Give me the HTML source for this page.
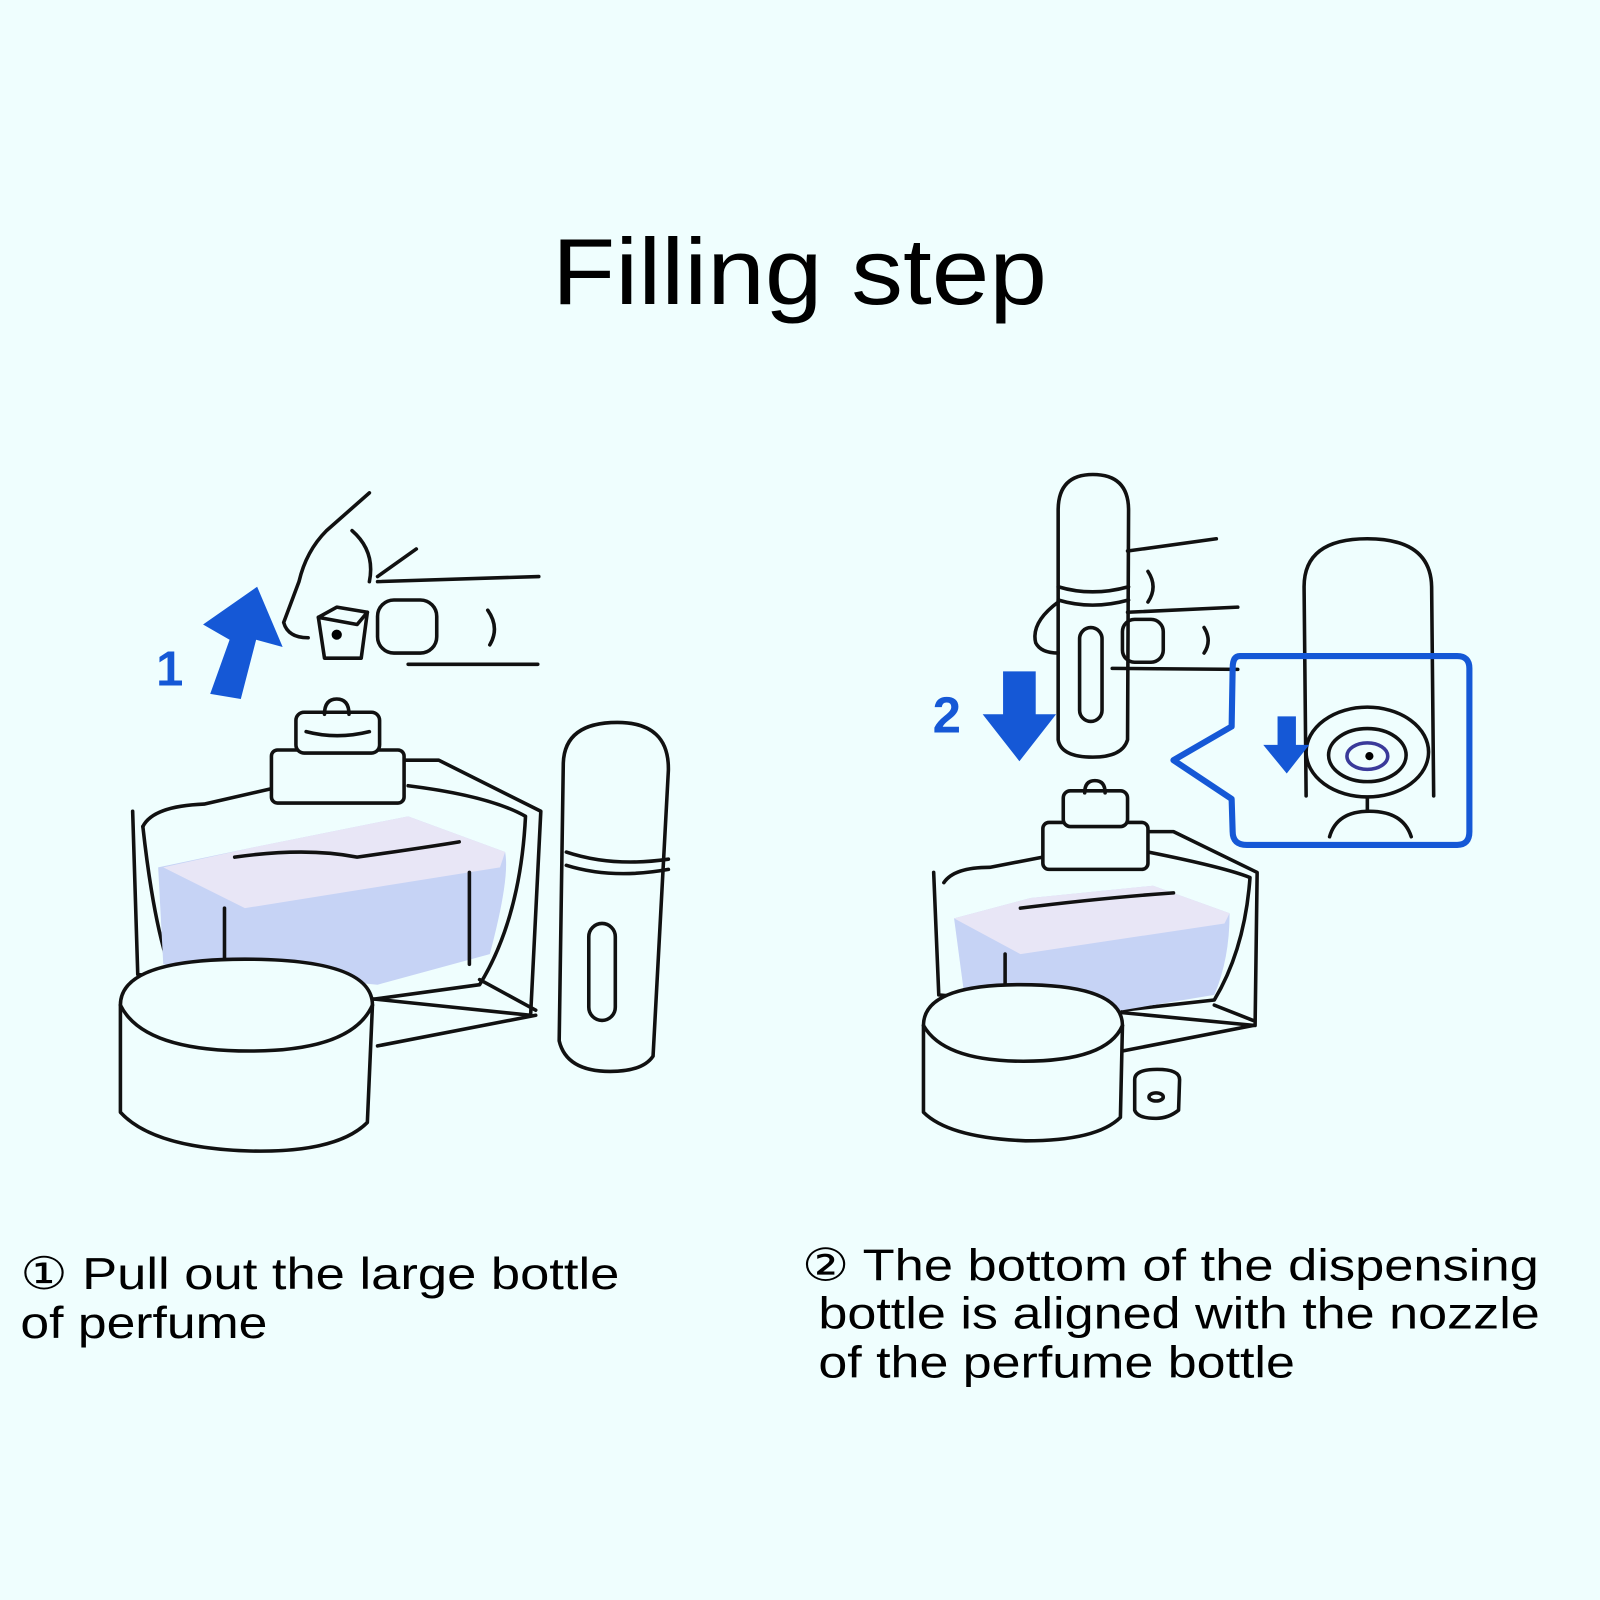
<!DOCTYPE html>
<html><head><meta charset="utf-8"><style>
html,body{margin:0;padding:0;background:#effefe;}
svg{display:block}
text{font-family:"Liberation Sans",sans-serif;fill:#000}
</style></head><body>
<svg width="1600" height="1600" viewBox="0 0 1568 1568" xmlns="http://www.w3.org/2000/svg">
<rect width="1568" height="1568" fill="#effefe"/>
<text x="541" y="298" font-size="92" textLength="485" lengthAdjust="spacingAndGlyphs">Filling step</text>

<g fill="none" stroke="#111" stroke-width="3.5" stroke-linejoin="round" stroke-linecap="round">
<path d="M130 795 L135 955 L520 995 L530 795 L430 745 L395 745"/>
<path d="M140 810 Q150 790 200 788 L270 772"/>
<path d="M400 770 Q480 780 515 800 Q510 900 470 965 L360 980"/>
<path d="M140 810 Q150 900 165 945"/>
<path d="M470 960 L525 990 M370 1025 L525 995"/>
<path d="M155 850 L250 830 L400 800 L495 835 Q500 860 480 935 L370 965 L160 945 Z" fill="#c6d3f5" stroke="none"/>
<path d="M160 850 L250 830 L400 800 L495 835 L490 850 L240 890 Z" fill="#e8e6f6" stroke="none"/>
<path d="M230 840 Q300 830 350 840 Q420 830 450 825"/>
<path d="M220 890 L220 940 M460 855 L460 945"/>
<rect x="266" y="735" width="130" height="52" rx="6" fill="#effefe"/>
<rect x="290" y="698" width="82" height="40" rx="8" fill="#effefe"/>
<path d="M318 700 Q318 685 330 685 Q342 685 342 700"/>
<path d="M300 717 Q330 725 362 717"/>
<path d="M118 985 Q118 940 240 940 Q365 940 365 985 L360 1100 Q330 1130 245 1128 Q150 1125 118 1090 Z" fill="#effefe"/>
<path d="M118 985 Q140 1030 245 1030 Q345 1030 365 985"/>
<path d="M552 750 Q552 708 605 708 Q656 708 655 755 L640 1035 Q630 1050 598 1050 Q555 1050 548 1020 Z" fill="#effefe"/>
<path d="M555 835 Q600 850 655 842 M555 848 Q600 862 655 852"/>
<rect x="577" y="905" width="26" height="95" rx="13"/>
<path d="M362 483 L320 520 Q300 540 293 570 L278 610 Q282 625 302 625"/>
<path d="M345 520 Q368 540 362 570 M408 538 L370 565"/>
<path d="M370 570 L528 565 M400 651 L527 651"/>
<rect x="370" y="588" width="58" height="52" rx="16"/>
<path d="M478 598 Q490 615 480 632"/>
<path d="M312 605 L330 595 L360 600 L354 645 L318 645 Z" fill="#effefe"/>
<path d="M312 605 L350 612 L360 600"/>
<path d="M915 855 L920 975 L1230 1005 L1232 855 L1150 815 L1122 815"/>
<path d="M925 865 Q935 850 970 850 L1022 840"/>
<path d="M1125 835 Q1200 850 1225 860 Q1220 930 1190 980 L1100 990"/>
<path d="M935 900 L1010 880 L1130 868 L1205 895 Q1205 940 1190 975 L1100 990 L945 975 Z" fill="#c6d3f5" stroke="none"/>
<path d="M935 900 L1010 880 L1130 868 L1205 895 L1200 905 L1000 935 Z" fill="#e8e6f6" stroke="none"/>
<path d="M1000 890 Q1080 880 1150 875 M985 935 L985 970 M1190 985 L1228 1000 M1100 1030 L1228 1005"/>
<rect x="1022" y="806" width="103" height="46" rx="6" fill="#effefe"/>
<rect x="1042" y="775" width="63" height="35" rx="7" fill="#effefe"/>
<path d="M1063 777 Q1063 765 1073 765 Q1083 765 1083 777"/>
<path d="M905 1005 Q905 965 1000 965 Q1100 965 1100 1005 L1098 1095 Q1075 1118 1005 1118 Q930 1115 905 1090 Z" fill="#effefe"/>
<path d="M905 1005 Q925 1040 1003 1040 Q1085 1040 1100 1005"/>
<path d="M1112 1058 Q1112 1048 1134 1048 Q1156 1048 1156 1058 L1155 1088 Q1145 1096 1133 1096 Q1115 1096 1112 1088 Z"/>
<ellipse cx="1133" cy="1075" rx="7" ry="4"/>
<path d="M1037 500 Q1037 465 1071 465 Q1106 465 1106 500 L1105 725 Q1100 742 1071 742 Q1040 742 1037 725 Z" fill="#effefe"/>
<path d="M1037 575 Q1070 585 1106 575 M1037 588 Q1070 598 1106 588"/>
<rect x="1058" y="615" width="22" height="92" rx="11"/>
<path d="M1105 540 L1192 528 M1125 560 Q1135 575 1125 590 M1105 600 L1213 595 M1090 655 L1213 656"/>
<path d="M1037 590 Q1010 610 1015 630 Q1020 640 1037 640"/>
<rect x="1100" y="607" width="40" height="42" rx="12"/>
<path d="M1180 615 Q1188 628 1180 640"/>
<path d="M1278 575 Q1278 528 1340 528 Q1402 528 1403 575 L1405 780 M1278 575 L1280 780"/>
<ellipse cx="1340" cy="737" rx="60" ry="44" fill="#effefe"/>
<ellipse cx="1340" cy="740" rx="38" ry="26"/>
<ellipse cx="1340" cy="741" rx="20" ry="13" stroke="#3a3a9a"/>
<path d="M1340 782 L1340 795 M1303 820 Q1310 795 1342 795 Q1375 795 1383 820"/>
</g>
<circle cx="330" cy="622" r="5"/>
<circle cx="1342" cy="741" r="4"/>
<path d="M1215 643 Q1208 643 1208 655 L1207 712 L1150 745 L1207 783 L1208 815 Q1208 828 1222 828 L1428 828 Q1440 828 1440 815 L1440 655 Q1440 643 1428 643 Z" fill="none" stroke="#1558d6" stroke-width="6" stroke-linejoin="round"/>
<path d="M206 680 L225 627 L199 612 L252 575 L277 634 L251 627 L236 685 Z" fill="#1558d6"/>
<text x="153" y="672" font-size="48" font-weight="bold" style="fill:#1558d6">1</text>
<path d="M983 658 L1015 658 L1015 700 L1035 700 L999 746 L963 700 L983 700 Z" fill="#1558d6"/>
<text x="914" y="718" font-size="50" font-weight="bold" style="fill:#1558d6">2</text>
<path d="M1252 702 L1270 702 L1270 730 L1283 730 L1261 758 L1238 730 L1252 730 Z" fill="#1558d6"/>

<g font-size="44">
<text x="20" y="1263" textLength="587" lengthAdjust="spacingAndGlyphs">① Pull out the large bottle</text>
<text x="20" y="1311" textLength="242" lengthAdjust="spacingAndGlyphs">of perfume</text>
<text x="786" y="1255" textLength="722" lengthAdjust="spacingAndGlyphs">② The bottom of the dispensing</text>
<text x="802" y="1302" textLength="707" lengthAdjust="spacingAndGlyphs">bottle is aligned with the nozzle</text>
<text x="802" y="1350" textLength="467" lengthAdjust="spacingAndGlyphs">of the perfume bottle</text>
</g>
</svg>
</body></html>
